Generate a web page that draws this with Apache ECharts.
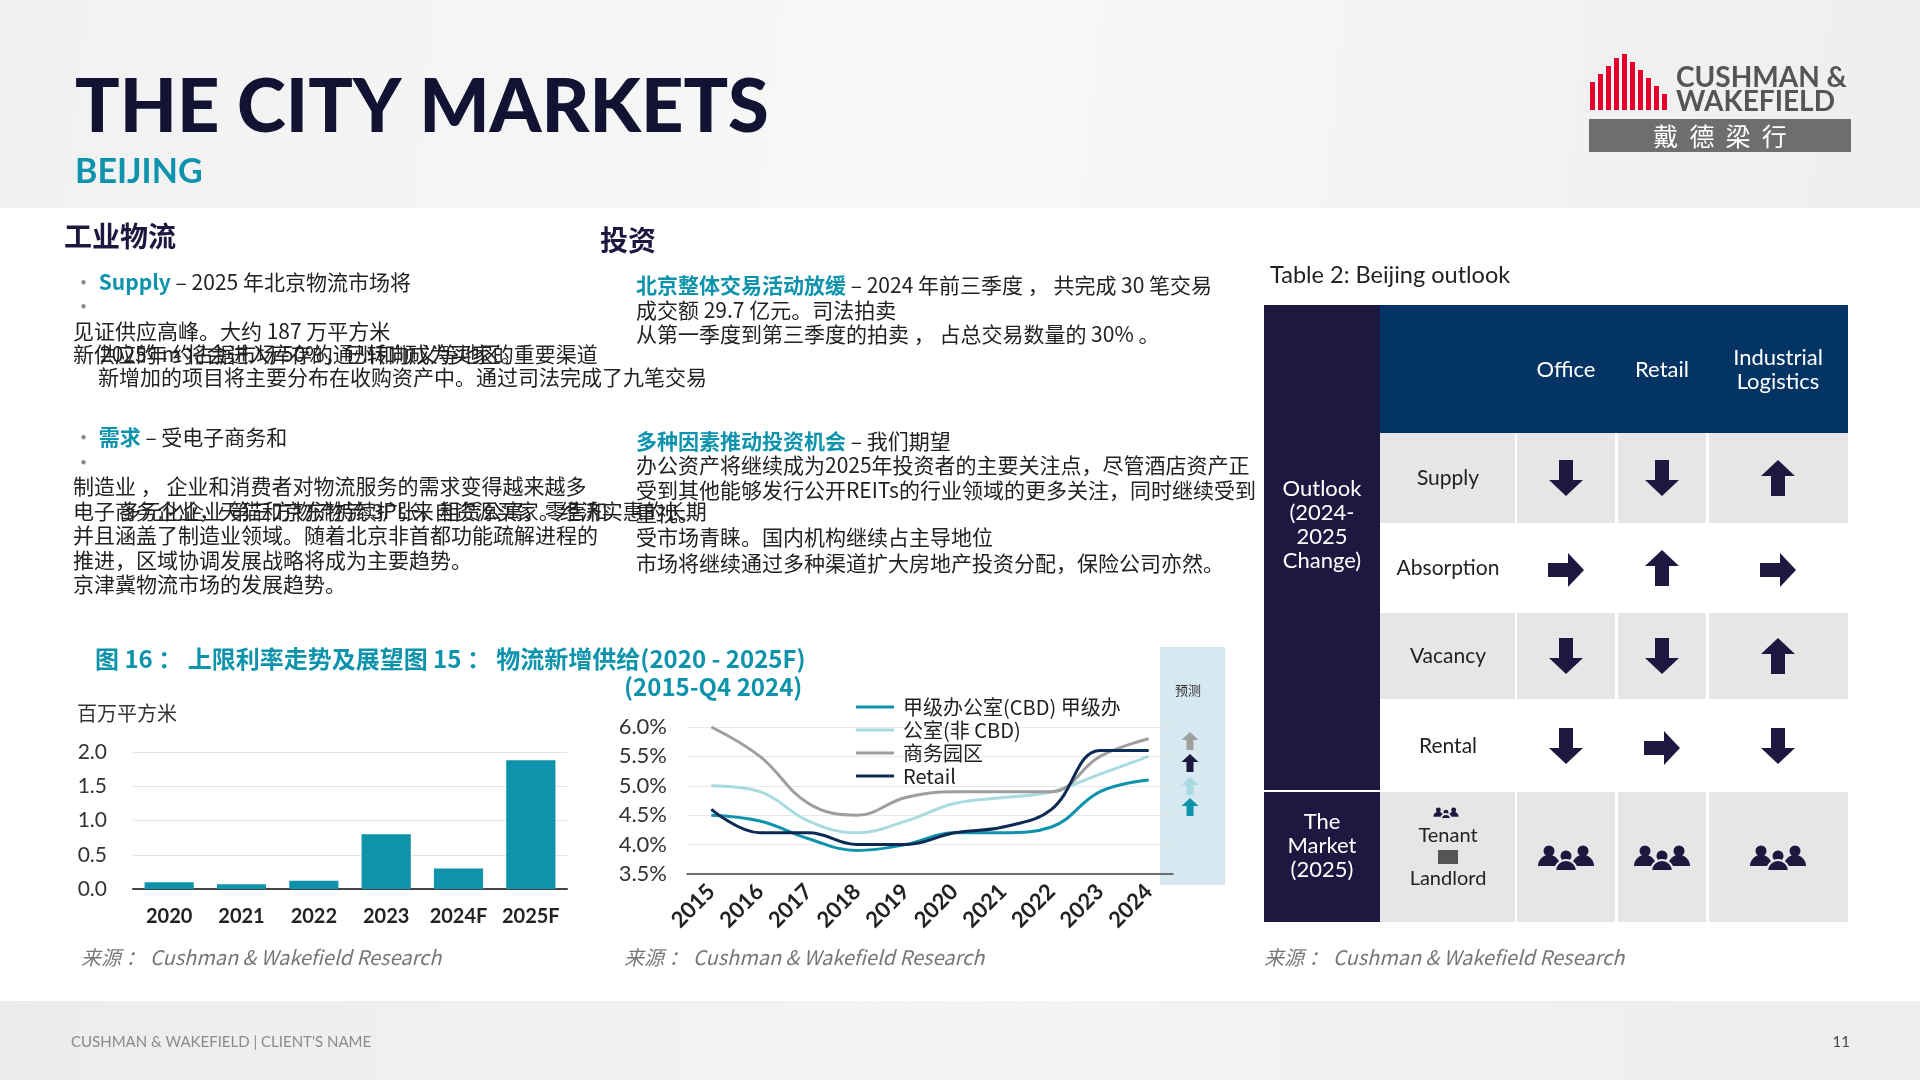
<!DOCTYPE html>
<html><head><meta charset="utf-8">
<script src="https://cdn.jsdelivr.net/npm/echarts@6/dist/echarts.min.js"></script>
<style>html,body{margin:0;padding:0;background:#fff}#c{width:1920px;height:1080px}</style>
</head><body><div id="c"></div>
<script>
var barCategories = ['2020','2021','2022','2023','2024F','2025F'];
var barValues = [0.10, 0.07, 0.12, 0.80, 0.30, 1.88];
var barTicks = ['0.0','0.5','1.0','1.5','2.0'];
var lineYears = ['2015','2016','2017','2018','2019','2020','2021','2022','2023','2024'];
var officeCBD = [4.5, 4.4, 4.1, 3.9, 4.0, 4.2, 4.2, 4.3, 4.9, 5.1];
var officeNonCBD = [5.0, 4.9, 4.4, 4.2, 4.4, 4.7, 4.8, 4.9, 5.2, 5.5];
var businessPark = [6.0, 5.5, 4.7, 4.5, 4.8, 4.9, 4.9, 4.9, 5.5, 5.8];
var retailYield = [4.6, 4.2, 4.2, 4.0, 4.0, 4.2, 4.3, 4.6, 5.6, 5.6];
var lineNames = ['甲级办公室(CBD) 甲级办', '公室(非 CBD)', '商务园区', 'Retail'];
var tableCols = ['Office', 'Retail', 'Industrial\nLogistics'];
var tableRows = ['Supply', 'Absorption', 'Vacancy', 'Rental'];
var tableArrows = [['down','down','up'],['right','up','right'],['down','down','up'],['down','right','down']];

var CJK = '"Noto Sans CJK SC","Noto Sans",sans-serif';
var LAT = 'Lato,"Noto Sans",sans-serif';
var NAVY = '#1c1840', BLUE = '#043464', TEAL = '#0d93ac';
var g = [];
function rect(x,y,w,h,fill){g.push({type:'rect',shape:{x:x,y:y,width:w,height:h},style:{fill:fill},silent:true});}
function txt(x,y,s,o){o=o||{};g.push({type:'text',x:x,y:y,silent:true,style:{text:s,fill:o.c||'#222',font:(o.it?'italic ':'')+(o.w||'normal')+' '+(o.s||21)+'px '+(o.f||CJK),textAlign:o.a||'left',textVerticalAlign:'middle',lineHeight:o.lh}});}
function rich(x,y,parts,s,it){var t='',r={};parts.forEach(function(p,i){t+='{p'+i+'|'+p[0]+'}';r['p'+i]={fill:p[1],fontWeight:p[2]||'normal',fontSize:s||21,fontFamily:CJK,fontStyle:it?'italic':'normal'};});g.push({type:'text',x:x,y:y,silent:true,style:{text:t,rich:r,textVerticalAlign:'middle'}});}
function arrow(cx,cy,dir,col,k){k=k||1;var sw=7,hw=17,hl=16,L=18;var p=[[-sw,-L],[sw,-L],[sw,L-hl],[hw,L-hl],[0,L],[-hw,L-hl],[-sw,L-hl]];
 var a={down:0,up:Math.PI,right:-Math.PI/2}[dir];var pts=p.map(function(q){var x=q[0]*k,y=q[1]*k;return [cx+x*Math.cos(a)-y*Math.sin(a),cy+x*Math.sin(a)+y*Math.cos(a)];});
 g.push({type:'polygon',shape:{points:pts},style:{fill:col||NAVY},silent:true});}
function people(cx,cy,k,bg){k=k||1;[[-17,-7,0],[17,-7,0],[0,-2,1]].forEach(function(p){
 g.push({type:'circle',shape:{cx:cx+p[0]*k,cy:cy+p[1]*k-4*k,r:5.5*k},style:{fill:NAVY},silent:true});
 g.push({type:'sector',shape:{cx:cx+p[0]*k,cy:cy+p[1]*k+11*k,r:11*k,startAngle:Math.PI,endAngle:2*Math.PI},style:{fill:NAVY,stroke:p[2]?(bg||'#e6e6e6'):null,lineWidth:2},silent:true});});}

// backgrounds
g.push({type:'rect',shape:{x:0,y:0,width:1920,height:208},style:{fill:new echarts.graphic.LinearGradient(0,0,1,1,[{offset:0,color:'#f1f1f2'},{offset:0.5,color:'#f8f8f8'},{offset:1,color:'#eeeeef'}])},silent:true});
g.push({type:'rect',shape:{x:0,y:1001,width:1920,height:79},style:{fill:new echarts.graphic.LinearGradient(0,0,1,0,[{offset:0,color:'#ececec'},{offset:0.5,color:'#f4f4f4'},{offset:1,color:'#ededed'}])},silent:true});
txt(75,108,'THE CITY MARKETS',{s:74,w:900,f:LAT,c:'#121232'});
txt(75,172,'BEIJING',{s:34,w:'bold',f:LAT,c:TEAL});
// logo
[[0,28],[8,36],[16,44],[24,52],[32,56],[40,48],[48,40],[56,32],[64,24],[72,16]].forEach(function(b){rect(1590+b[0],110-b[1],5,b[1],'#e4002b');});
txt(1676,78,'CUSHMAN &',{s:28,w:'bold',f:LAT,c:'#555'});
txt(1676,102,'WAKEFIELD',{s:28,w:'bold',f:LAT,c:'#555'});
rect(1589,119,262,33,'#6d6e70');
txt(1720,136,'戴  德  梁  行',{s:25,c:'#fff',a:'center'});
txt(71,1042,"CUSHMAN & WAKEFIELD | CLIENT'S NAME",{s:15,f:LAT,c:'#8a8a8a'});
txt(1850,1042,'11',{s:15,f:LAT,c:'#444',a:'right'});

// left column
txt(64,236,'工业物流',{s:28,w:'bold',c:NAVY});
rich(73,282,[['• ','#888'],['Supply','#0d93ac','bold'],[' – 2025 年北京物流市场将','#222']]);
txt(73,306,'•',{c:'#888'});
txt(73,331,'见证供应高峰。大约 187 万平方米');
txt(73,354,'新供应的 m 将会进入库存的通州和顺义等地区。');
txt(100,354,'2025年 约占据市场 50%，已转向成为买家的重要渠道');
txt(98,377,'新增加的项目将主要分布在收购资产中。通过司法完成了九笔交易');
rich(73,437,[['• ','#888'],['需求','#0d93ac','bold'],[' – 受电子商务和','#222']]);
txt(73,462,'•',{c:'#888'});
txt(73,486,'制造业 ， 企业和消费者对物流服务的需求变得越来越多');
txt(73,511,'电子商务企业，天猫和京东物流 3PL 来自资源买家。经济实惠的长期');
txt(120,511,'多元化企业 第三方物流持续扩张，租赁公寓、零售和');
txt(73,535,'并且涵盖了制造业领域。随着北京非首都功能疏解进程的');
txt(73,560,'推进，区域协调发展战略将成为主要趋势。');
txt(73,584,'京津冀物流市场的发展趋势。');
// middle column
txt(600,240,'投资',{s:28,w:'bold',c:NAVY});
rich(636,285,[['北京整体交易活动放缓','#0d93ac','bold'],[' – 2024 年前三季度 ， 共完成 30 笔交易','#222']]);
txt(636,310,'成交额 29.7 亿元。司法拍卖');
txt(636,334,'从第一季度到第三季度的拍卖 ， 占总交易数量的 30% 。');
rich(636,441,[['多种因素推动投资机会','#0d93ac','bold'],[' – 我们期望','#222']]);
txt(636,465,'办公资产将继续成为2025年投资者的主要关注点，尽管酒店资产正');
txt(636,490,'受到其他能够发行公开REITs的行业领域的更多关注，同时继续受到');
txt(636,513,'重视。');
txt(636,537,'受市场青睐。国内机构继续占主导地位');
txt(636,563,'市场将继续通过多种渠道扩大房地产投资分配，保险公司亦然。');
// chart titles
txt(95,659,'图 16 ： 上限利率走势及展望图 15 ： 物流新增供给(2020 - 2025F)',{s:24,w:'bold',c:TEAL});
txt(624,687,'(2015-Q4 2024)',{s:24,w:'bold',c:TEAL});
txt(77,713,'百万平方米',{s:20,c:'#333'});
[81,624,1264].forEach(function(x){rich(x,957,[['来源 ： Cushman & Wakefield Research','#777']],20,true);});
// forecast band
rect(1160,647,65,238,'#d6e9f0');
txt(1175,690,'预测',{s:13,c:'#333'});
arrow(1190,741,'up','#9e9e9e',0.5);arrow(1190,763,'up',NAVY,0.5);arrow(1190,786,'up','#a8dbe0',0.5);arrow(1190,807,'up',TEAL,0.5);

// table
txt(1270,275,'Table 2: Beijing outlook',{s:23.5,f:LAT,c:'#222'});
rect(1264,305,116,485,NAVY);rect(1264,792,116,130,NAVY);
rect(1380,305,468,128,BLUE);
var colX=[[1380,1515],[1517,1615],[1618,1706],[1709,1848]],rowY=[[433,523],[525,611],[613,699],[702,790],[792,922]];
rowY.forEach(function(r,i){if(i%2===1){rect(1380,r[0],468,r[1]-r[0],'#fff');}else{colX.forEach(function(c){rect(c[0],r[0],c[1]-c[0],r[1]-r[0],'#e6e6e6');});}});
var cxs=[1566,1662,1778];
tableCols.forEach(function(c,i){txt(cxs[i],370,c,{s:22,f:LAT,c:'#fff',a:'center',lh:24});});
tableRows.forEach(function(r,i){var cy=(rowY[i][0]+rowY[i][1])/2;txt(1448,cy,r,{s:21,f:LAT,c:'#222',a:'center'});tableArrows[i].forEach(function(d,j){arrow(cxs[j],cy+(d==='right'?2:0),d);});});
txt(1322,525,'Outlook\n(2024-\n2025\nChange)',{s:22,f:LAT,c:'#fff',a:'center',lh:24});
txt(1322,846,'The\nMarket\n(2025)',{s:22,f:LAT,c:'#fff',a:'center',lh:24});
people(1446,815,0.45);
txt(1448,836,'Tenant',{s:20,f:LAT,c:'#222',a:'center'});
rect(1438,850,20,14,'#555');
txt(1448,879,'Landlord',{s:20,f:LAT,c:'#222',a:'center'});
cxs.forEach(function(x){people(x,862,1);});

var chart = echarts.init(document.getElementById('c'));
var lineColors=[TEAL,'#a8dbe0','#9e9e9e','#0c2a55'];
chart.setOption({
 animation:false,
 graphic:g,
 grid:[{left:133,top:752,width:434,height:137},{left:687,top:727,width:486,height:147}],
 legend:{orient:'vertical',left:851,top:692,itemGap:3,itemWidth:38,itemHeight:3,icon:'rect',data:lineNames,
   textStyle:{fontSize:20,color:'#222',fontFamily:CJK,padding:[0,0,0,4]}},
 xAxis:[{gridIndex:0,type:'category',data:barCategories,axisTick:{show:false},axisLine:{lineStyle:{color:'#444',width:2}},
   axisLabel:{interval:0,fontSize:20,fontWeight:'bold',color:'#222',fontFamily:LAT,margin:18}},
  {gridIndex:1,type:'category',data:lineYears,axisTick:{show:false},axisLine:{lineStyle:{color:'#444',width:1.5}},
   axisLabel:{interval:0,fontSize:22,fontWeight:'bold',color:'#222',fontFamily:LAT,rotate:45,margin:14}}],
 yAxis:[{gridIndex:0,type:'value',min:0,max:2,interval:0.5,axisLabel:{fontSize:21,color:'#333',fontFamily:LAT,margin:26,formatter:function(v){return barTicks[Math.round(v*2)];}},splitLine:{lineStyle:{color:'#e4e4e4'}}},
  {gridIndex:1,type:'value',min:3.5,max:6,interval:0.5,axisLabel:{fontSize:22,color:'#333',fontFamily:LAT,margin:20,formatter:function(v){return v.toFixed(1)+'%';}},splitLine:{lineStyle:{color:'#e8e8e8'}}}],
 series:[{type:'bar',xAxisIndex:0,yAxisIndex:0,data:barValues,barWidth:'68%',itemStyle:{color:'#0f93aa'}}].concat(
  [officeCBD,officeNonCBD,businessPark,retailYield].map(function(d,i){return {type:'line',name:lineNames[i],xAxisIndex:1,yAxisIndex:1,data:d,smooth:0.4,symbol:'none',z:(i===3?5:3),lineStyle:{width:3,color:lineColors[i]},itemStyle:{color:lineColors[i]}};}))
});
</script></body></html>
